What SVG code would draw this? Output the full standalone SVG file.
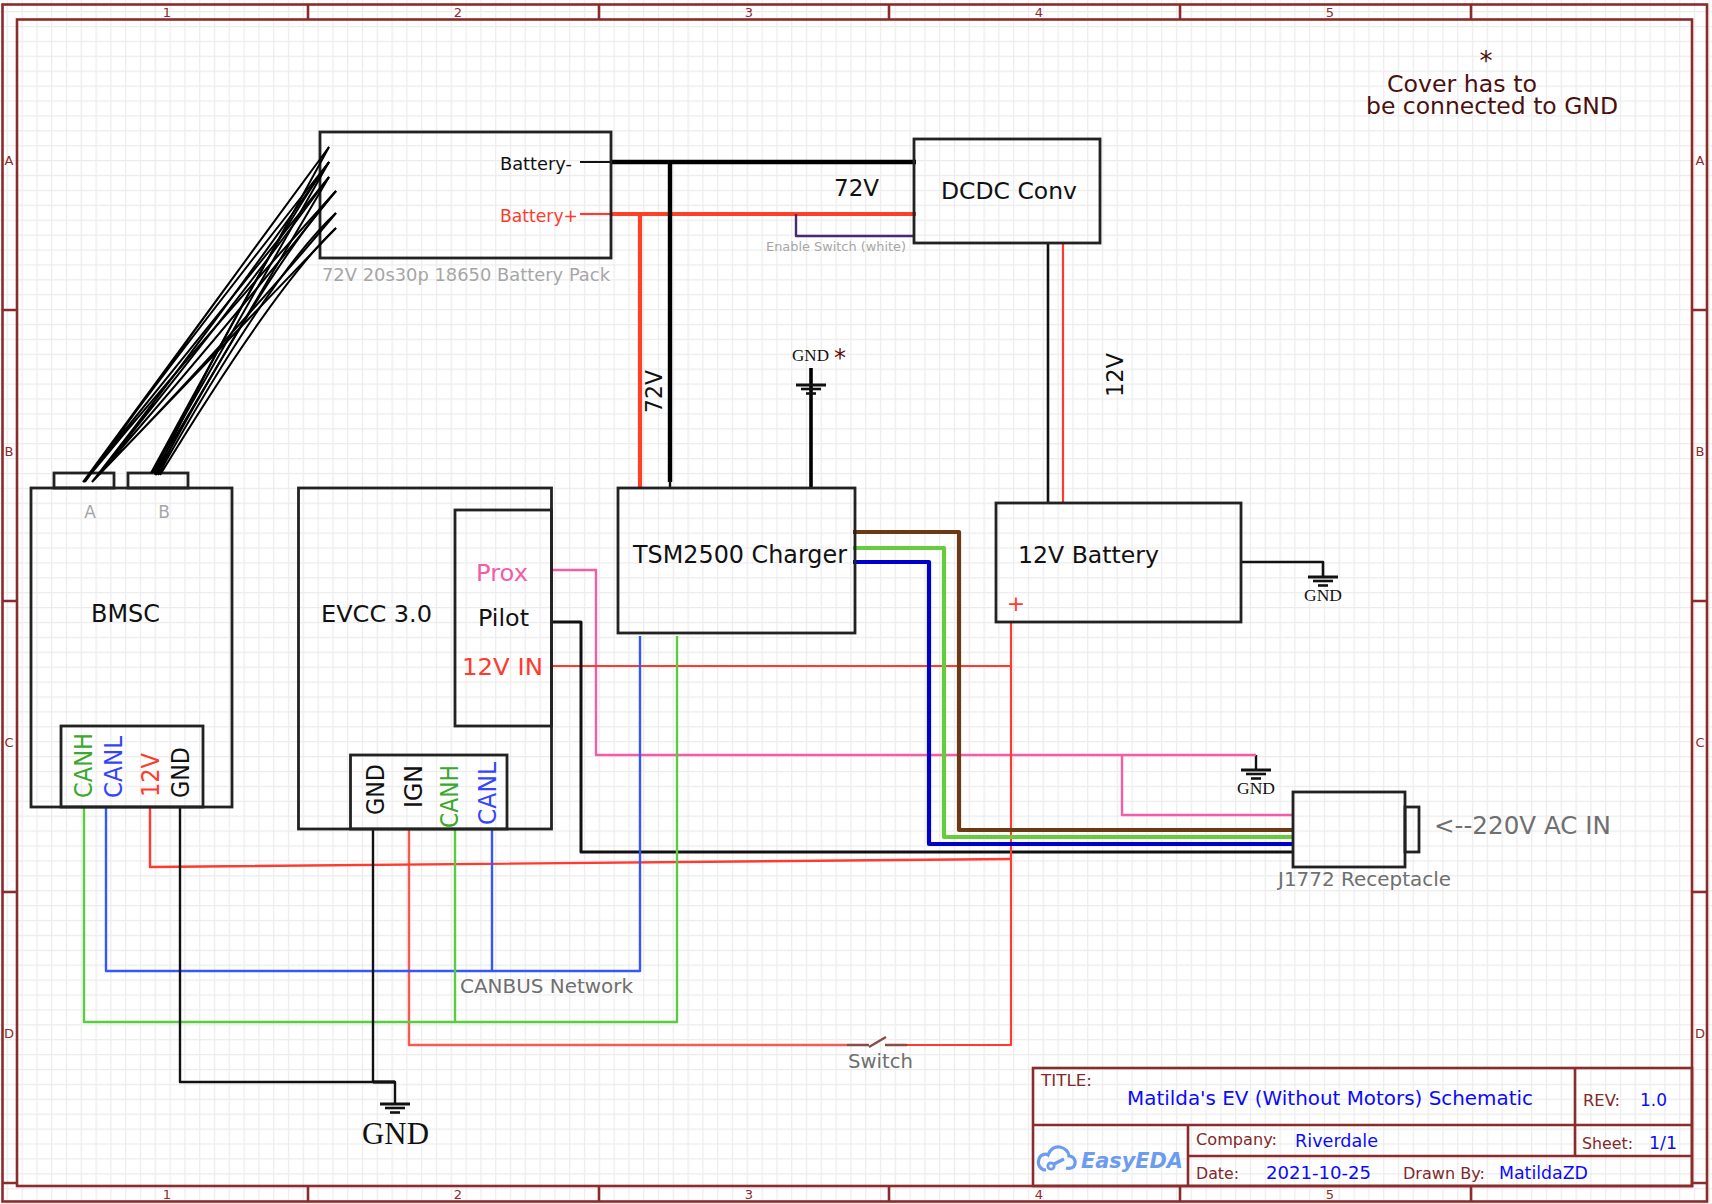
<svg xmlns="http://www.w3.org/2000/svg" width="1712" height="1204" viewBox="0 0 1712 1204">
<style>
text{font-family:"DejaVu Sans",sans-serif}
.box{fill:none;stroke:#222;stroke-width:2.8}
.w{fill:none;stroke-linejoin:round}
.k{stroke:#111;stroke-width:2.4}
.kk{stroke:#000;stroke-width:4.4}
.r{stroke:#ff3a2e;stroke-width:2.2}
.rr{stroke:#ff3f26;stroke-width:4.2}
.g{stroke:#59cc3f;stroke-width:2.4}
.b{stroke:#3358ff;stroke-width:2.4}
.p{stroke:#f45ca8;stroke-width:2.4}
.fr{fill:none;stroke:#8c2b2b;stroke-width:2.6}
.fl{fill:#8c2b2b;font-size:13px;text-anchor:middle}
.tl{fill:#7f2a2a;font-size:15.5px}
.tv{fill:#0a0aff;font-size:17px}
.gr{fill:#a6a6a6}
.dg{fill:#6f6f6f}
.gs{font-family:"Liberation Serif",serif;fill:#111}
.bd{fill:none;stroke:#000;stroke-width:2}
</style>
<defs>
<pattern id="grid" patternUnits="userSpaceOnUse" x="6.7" y="11" width="14.8" height="14.9">
<rect x="-1" y="-1" width="17" height="17" fill="#fff"/>
<path d="M0 0V14.9M0 0H14.8" stroke="#ececec" stroke-width="2.4" fill="none"/>
</pattern>
<g id="gs"><path d="M-15 0H15" stroke="#111" stroke-width="3"/><path d="M-10 4H10" stroke="#111" stroke-width="2.6"/><path d="M-5 8.500H5" stroke="#111" stroke-width="2.6"/></g>
</defs>
<rect width="1712" height="1204" fill="url(#grid)"/>
<g id="frame">
<rect class="fr" x="2.500" y="4.500" width="1704.500" height="1197"/>
<rect class="fr" x="17" y="19.500" width="1675" height="1166.500"/>
<path class="fr" d="M308 4.500V19.500M599 4.500V19.500M889 4.500V19.500M1180 4.500V19.500M1471 4.500V19.500M308 1186V1201.500M599 1186V1201.500M889 1186V1201.500M1180 1186V1201.500M1471 1186V1201.500M2.500 310H17M2.500 601H17M2.500 892H17M2.500 1183H17M1692 310H1707M1692 601H1707M1692 892H1707M1692 1183H1707"/>
<text class="fl" x="167" y="17">1</text><text class="fl" x="458" y="17">2</text><text class="fl" x="749" y="17">3</text><text class="fl" x="1039" y="17">4</text><text class="fl" x="1330" y="17">5</text>
<text class="fl" x="167" y="1199">1</text><text class="fl" x="458" y="1199">2</text><text class="fl" x="749" y="1199">3</text><text class="fl" x="1039" y="1199">4</text><text class="fl" x="1330" y="1199">5</text>
<text class="fl" x="9" y="165">A</text><text class="fl" x="9" y="456">B</text><text class="fl" x="9" y="747">C</text><text class="fl" x="9" y="1038">D</text>
<text class="fl" x="1700" y="165">A</text><text class="fl" x="1700" y="456">B</text><text class="fl" x="1700" y="747">C</text><text class="fl" x="1700" y="1038">D</text>
</g>
<g id="title-block">
<rect class="fr" x="1033" y="1068" width="659" height="118"/>
<path class="fr" d="M1575 1068V1156M1033 1125H1692M1188 1125V1186M1188 1156H1692"/>
<text class="tl" x="1041" y="1086" textLength="51" lengthAdjust="spacingAndGlyphs">TITLE:</text>
<text class="tv" x="1127" y="1105" textLength="406" lengthAdjust="spacingAndGlyphs" style="font-size:19px">Matilda's EV (Without Motors) Schematic</text>
<text class="tl" x="1583" y="1106" textLength="37" lengthAdjust="spacingAndGlyphs">REV:</text>
<text class="tv" x="1640" y="1106" textLength="27" lengthAdjust="spacingAndGlyphs">1.0</text>
<text class="tl" x="1196" y="1145" textLength="81" lengthAdjust="spacingAndGlyphs">Company:</text>
<text class="tv" x="1295" y="1147" textLength="83" lengthAdjust="spacingAndGlyphs">Riverdale</text>
<text class="tl" x="1582" y="1149" textLength="51" lengthAdjust="spacingAndGlyphs">Sheet:</text>
<text class="tv" x="1649" y="1149" textLength="28" lengthAdjust="spacingAndGlyphs">1/1</text>
<text class="tl" x="1196" y="1179" textLength="43" lengthAdjust="spacingAndGlyphs">Date:</text>
<text class="tv" x="1266" y="1179" textLength="105" lengthAdjust="spacingAndGlyphs">2021-10-25</text>
<text class="tl" x="1403" y="1179" textLength="82" lengthAdjust="spacingAndGlyphs">Drawn By:</text>
<text class="tv" x="1499" y="1179" textLength="89" lengthAdjust="spacingAndGlyphs">MatildaZD</text>
<path d="M1046 1170C1040 1170 1037 1164 1039 1159C1040 1155 1045 1153 1048 1155C1050 1149 1055 1146 1060 1147C1065 1148 1069 1152 1069 1156C1073 1156 1076 1160 1075 1164C1074 1168 1070 1169 1066 1168" fill="none" stroke="#6c9cf0" stroke-width="3.200"/>
<path d="M1054 1164L1064 1159" fill="none" stroke="#6c9cf0" stroke-width="3.200"/>
<circle cx="1051" cy="1166" r="3.200" fill="none" stroke="#6c9cf0" stroke-width="2.800"/>
<text x="1081" y="1168" textLength="102" lengthAdjust="spacingAndGlyphs" style="font-size:22px;font-weight:bold;font-style:italic;fill:#6c9cf0">EasyEDA</text>
</g>
<g id="connectors">
<path class="w k" style="stroke-width:2" d="M580 162H612"/>
<path class="w kk" d="M612 162H916"/>
<path class="w r" d="M580 214H611"/>
<path class="w rr" d="M611 214H916"/>
<path class="w rr" d="M640 214V488"/>
<path class="w kk" d="M670 162V482"/>
<path class="w k" d="M670 480V488"/>
<path class="w" style="stroke:#4a2a6b;stroke-width:2.4" d="M796 214V236H914"/>
<path class="w kk" style="stroke-width:3.600" d="M811 368V488"/>
<path class="w k" style="stroke-width:2.600" d="M1048 243V503"/>
<path class="w r" d="M1063 243V503"/>
<path class="w k" style="stroke-width:2.600" d="M1241 562H1323V577"/>
<path class="w k" d="M1256 755V769"/>
<path class="w p" d="M551 570H596V755H1256"/>
<path class="w p" d="M1122 755V815H1293"/>
<path class="w r" d="M551 666H1011"/>
<path class="w k" style="stroke-width:3" d="M551 622H581V852H1293"/>
<path class="w r" d="M1011 622V1045H907"/>
<path class="w r" style="stroke:#f75a50;stroke-width:2.400" d="M847 1045H409V829"/>
<path class="w r" style="stroke-width:2.400" d="M150 807V867L1011 859"/>
<path class="w b" d="M106 807V971H640V636"/>
<path class="w b" d="M492 829V971"/>
<path class="w g" d="M84 807V1022H677V636"/>
<path class="w g" d="M455 829V1022"/>
<path class="w k" d="M180 807V1082H395V1103"/>
<path class="w k" d="M373 829V1082"/>
<path class="w k" style="stroke-width:3.200" d="M373 1082H395"/>
<path class="w" style="stroke:#6b3a14;stroke-width:4.200" d="M853 532H959V830H1293"/>
<path class="w" style="stroke:#66cc3d;stroke-width:4.200" d="M853 548H944V837H1293"/>
<path class="w" style="stroke:#0000cc;stroke-width:4.200" d="M853 562H929V844H1293"/>
<g id="switch-symbol" fill="none" stroke="#8a4a4a" stroke-width="2.400">
<path d="M847 1045H869M885 1045H907M869 1047L886 1037"/>
</g>
</g>
<g id="battery-pack">
<rect class="box" x="320" y="132" width="291" height="126"/>
<text x="500" y="170" textLength="72" lengthAdjust="spacingAndGlyphs" style="font-size:18px;fill:#111">Battery-</text>
<text x="500" y="222" textLength="78" lengthAdjust="spacingAndGlyphs" style="font-size:18px;fill:#ff3a2e">Battery+</text>
<text class="gr" x="322" y="281" textLength="288" lengthAdjust="spacingAndGlyphs" style="font-size:18px">72V 20s30p 18650 Battery Pack</text>
</g>
<g id="dcdc">
<rect class="box" x="914" y="139" width="186" height="104"/>
<text x="941" y="199" textLength="136" lengthAdjust="spacingAndGlyphs" style="font-size:23.5px;fill:#111">DCDC Conv</text>
</g>
<g id="label-72v-h"><text x="834" y="196" textLength="45" lengthAdjust="spacingAndGlyphs" style="font-size:23px;fill:#111">72V</text></g>
<g id="label-enable"><text class="gr" x="766" y="251" textLength="140" lengthAdjust="spacingAndGlyphs" style="font-size:13px">Enable Switch (white)</text></g>
<g id="label-72v-v"><text transform="translate(662,413) rotate(-90)" textLength="43" lengthAdjust="spacingAndGlyphs" style="font-size:23px;fill:#111">72V</text></g>
<g id="label-12v-v"><text transform="translate(1123,397) rotate(-90)" textLength="44" lengthAdjust="spacingAndGlyphs" style="font-size:23px;fill:#111">12V</text></g>
<g id="gnd-cover">
<use href="#gs" x="811" y="385"/>
<text class="gs" x="792" y="361" textLength="37" lengthAdjust="spacingAndGlyphs" style="font-size:17px">GND</text>
<text x="840" y="366" text-anchor="middle" style="font-size:24px;fill:#5a1212">*</text>
</g>
<g id="gnd-battery">
<use href="#gs" x="1323" y="577"/>
<text class="gs" x="1304" y="601" textLength="38" lengthAdjust="spacingAndGlyphs" style="font-size:17px">GND</text>
</g>
<g id="gnd-prox">
<use href="#gs" x="1256" y="770"/>
<text class="gs" x="1237" y="794" textLength="38" lengthAdjust="spacingAndGlyphs" style="font-size:17px">GND</text>
</g>
<g id="gnd-main">
<use href="#gs" x="395" y="1104"/>
<text class="gs" x="362" y="1144" textLength="67" lengthAdjust="spacingAndGlyphs" style="font-size:31px">GND</text>
</g>
<g id="tsm-charger">
<rect class="box" x="618" y="488" width="237" height="145"/>
<text x="633" y="563" textLength="214" lengthAdjust="spacingAndGlyphs" style="font-size:24px;fill:#111">TSM2500 Charger</text>
</g>
<g id="battery-12v">
<rect class="box" x="996" y="503" width="245" height="119"/>
<text x="1018" y="563" textLength="141" lengthAdjust="spacingAndGlyphs" style="font-size:23.5px;fill:#111">12V Battery</text>
<text x="1016" y="611" text-anchor="middle" style="font-size:22px;fill:#ff3a2e">+</text>
</g>
<g id="j1772">
<rect class="box" x="1293" y="792" width="112" height="75"/>
<rect class="box" x="1405" y="807" width="14" height="45"/>
<text class="dg" x="1434" y="834" textLength="177" lengthAdjust="spacingAndGlyphs" style="font-size:24px">&lt;--220V AC IN</text>
<text class="dg" x="1278" y="886" textLength="173" lengthAdjust="spacingAndGlyphs" style="font-size:19px">J1772 Receptacle</text>
</g>
<g id="bmsc">
<rect class="box" x="31" y="488" width="201" height="319"/>
<rect class="box" x="54" y="473" width="60" height="15"/>
<rect class="box" x="128" y="473" width="60" height="15"/>
<text class="gr" x="90" y="518" text-anchor="middle" style="font-size:17px">A</text>
<text class="gr" x="164" y="518" text-anchor="middle" style="font-size:17px">B</text>
<text x="91" y="622" textLength="69" lengthAdjust="spacingAndGlyphs" style="font-size:24px;fill:#111">BMSC</text>
<rect class="box" x="61" y="726" width="142" height="81"/>
<text transform="translate(92,798) rotate(-90)" textLength="65" lengthAdjust="spacingAndGlyphs" style="font-size:25px;fill:#3aa82a">CANH</text>
<text transform="translate(122,798) rotate(-90)" textLength="62" lengthAdjust="spacingAndGlyphs" style="font-size:25px;fill:#3344ff">CANL</text>
<text transform="translate(159,797) rotate(-90)" textLength="44" lengthAdjust="spacingAndGlyphs" style="font-size:25px;fill:#ff3a2e">12V</text>
<text transform="translate(189,798) rotate(-90)" textLength="51" lengthAdjust="spacingAndGlyphs" style="font-size:25px;fill:#111">GND</text>
</g>
<g id="evcc">
<rect class="box" x="298.500" y="488" width="253" height="341"/>
<text x="321" y="622" textLength="111" lengthAdjust="spacingAndGlyphs" style="font-size:23.5px;fill:#111">EVCC 3.0</text>
<rect class="box" x="455" y="510" width="96.500" height="216"/>
<text x="476" y="581" textLength="52" lengthAdjust="spacingAndGlyphs" style="font-size:23.5px;fill:#f45ca8">Prox</text>
<text x="478" y="626" textLength="51" lengthAdjust="spacingAndGlyphs" style="font-size:23.5px;fill:#111">Pilot</text>
<text x="462" y="675" textLength="81" lengthAdjust="spacingAndGlyphs" style="font-size:23.5px;fill:#ff3a2e">12V IN</text>
<rect class="box" x="350.500" y="755" width="156.500" height="74"/>
<text transform="translate(384,815) rotate(-90)" textLength="51" lengthAdjust="spacingAndGlyphs" style="font-size:25px;fill:#111">GND</text>
<text transform="translate(422,808) rotate(-90)" textLength="43" lengthAdjust="spacingAndGlyphs" style="font-size:25px;fill:#111">IGN</text>
<text transform="translate(458,828) rotate(-90)" textLength="63" lengthAdjust="spacingAndGlyphs" style="font-size:25px;fill:#3aa82a">CANH</text>
<text transform="translate(496,825) rotate(-90)" textLength="63" lengthAdjust="spacingAndGlyphs" style="font-size:25px;fill:#3344ff">CANL</text>
</g>
<g id="labels">
<text class="dg" x="460" y="993" textLength="173" lengthAdjust="spacingAndGlyphs" style="font-size:19px">CANBUS Network</text>
<text class="dg" x="848" y="1068" textLength="65" lengthAdjust="spacingAndGlyphs" style="font-size:19px">Switch</text>
<text x="1486" y="70" text-anchor="middle" style="font-size:26px;fill:#4a1010">*</text>
<text x="1387" y="92" textLength="150" lengthAdjust="spacingAndGlyphs" style="font-size:23px;fill:#4a1010">Cover has to</text>
<text x="1366" y="114" textLength="252" lengthAdjust="spacingAndGlyphs" style="font-size:23px;fill:#4a1010">be connected to GND</text>
</g>
<g id="harness">
<path class="bd" d="M329 147L83 482M329 162Q200 325 83 482M329 177Q205 330 83 482M336 191Q210 330 84 482M329 147Q205 315 85 482"/>
<path class="bd" d="M329 162Q215 325 92 482M329 177Q220 325 92 482M336 191Q225 330 92 482M336 213Q230 340 92 482M336 228L92 482"/>
<path class="bd" d="M329 147L151 473M329 162L152 473M329 177L154 473"/>
<path class="bd" d="M336 191Q272 262 156 475M336 213Q272 272 158 475M336 228Q278 282 160 475M329 162Q260 260 155 475"/>
</g>
</svg>
